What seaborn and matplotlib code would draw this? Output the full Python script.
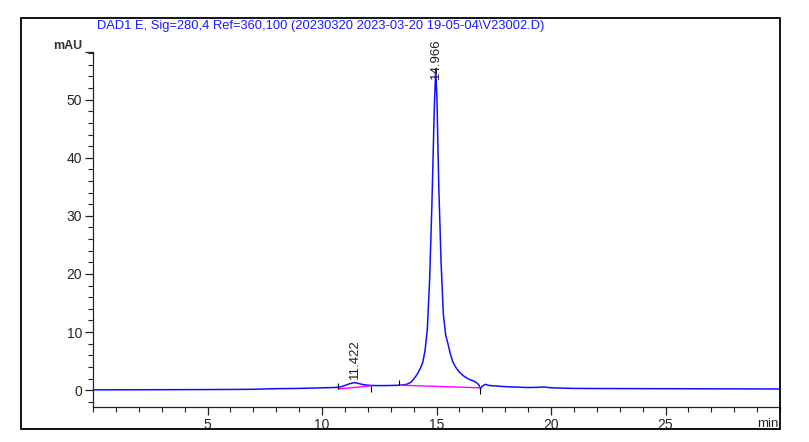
import matplotlib
matplotlib.use("Agg")
import matplotlib.pyplot as plt
import seaborn as sns
import pandas as pd
from matplotlib.patches import Rectangle
from matplotlib.ticker import MultipleLocator

sns.set_style("white")
plt.rcParams['font.family'] = ['Liberation Sans', 'DejaVu Sans']

# Chromatogram signal
time_min = [0.0, 1.0, 2.0, 3.0, 4.0, 5.0, 6.0, 7.0, 7.6, 8.0, 9.0, 10.0, 10.5, 10.8,
            11.0, 11.2, 11.42, 11.6, 11.8, 12.0, 12.2, 12.6, 13.0, 13.4, 13.7, 13.9,
            14.0, 14.1, 14.2, 14.3, 14.4, 14.5, 14.6, 14.7, 14.8, 14.9, 14.966, 15.02,
            15.1, 15.2, 15.3, 15.4, 15.5, 15.6, 15.7, 15.8, 15.9, 16.0, 16.2, 16.4,
            16.6, 16.75, 16.85, 16.92, 17.0, 17.14, 17.3, 17.6, 18.0, 19.0, 19.5,
            19.7, 20.0, 21.0, 22.0, 25.0, 28.0, 30.0]
signal_mau = [0.05, 0.06, 0.07, 0.08, 0.09, 0.1, 0.12, 0.15, 0.22, 0.25, 0.3, 0.4, 0.45, 0.55,
              0.8, 1.1, 1.3, 1.15, 0.95, 0.85, 0.8, 0.78, 0.8, 0.85, 1.0, 1.4,
              1.9, 2.4, 3.0, 3.8, 4.8, 6.8, 10.5, 19.0, 32.0, 48.0, 55.3, 50.0,
              35.0, 22.0, 13.0, 9.5, 8.0, 6.3, 5.0, 4.2, 3.6, 3.1, 2.4, 1.9,
              1.6, 1.3, 0.9, 0.25, 0.7, 1.0, 0.8, 0.72, 0.6, 0.45, 0.5,
              0.55, 0.4, 0.3, 0.28, 0.25, 0.22, 0.2]

# Integration baselines (magenta)
base1_t = [10.7, 12.15]
base1_v = [0.2, 0.74]
base2_t = [13.38, 16.92]
base2_v = [0.86, 0.4]

# Integration event marks
mark_t = [10.7, 12.15, 13.38, 16.92]
mark_lo = [0.2, -0.4, 0.86, -0.6]
mark_hi = [1.2, 0.74, 1.7, 0.4]

# Peak labels
peak_rt = [11.422, 14.966]
peak_lbl_y = [2.0, 53.6]
peak_lbl = ["11.422", "14.966"]

title = "DAD1 E, Sig=280,4 Ref=360,100 (20230320 2023-03-20 19-05-04\\V23002.D)"
x_major = [5, 10, 15, 20, 25]
y_major = [0, 10, 20, 30, 40, 50]

df = pd.DataFrame({"t": time_min, "v": signal_mau})

W, H = 809, 442
fig = plt.figure(figsize=(W / 100, H / 100), dpi=100)
ax = fig.add_axes([93 / W, 1 - 407 / H, (780 - 93) / W, (407 - 52) / H])

sns.lineplot(data=df, x="t", y="v", ax=ax, color="#1010ff", lw=1.1, estimator=None, sort=False)
sns.lineplot(x=base1_t, y=base1_v, ax=ax, color="#ff00ff", lw=1.0, estimator=None)
sns.lineplot(x=base2_t, y=base2_v, ax=ax, color="#ff00ff", lw=1.0, estimator=None)
ax.vlines(mark_t, mark_lo, mark_hi, color="black", lw=0.8)

for t, y, s in zip(peak_rt, peak_lbl_y, peak_lbl):
    ax.text(t, y, s, rotation=90, ha="center", va="bottom", fontsize=9.5,
            color="#202020", clip_on=False)

ax.set_xlim(0, 30)
ax.set_ylim(-2.9, 58.2)
ax.set_xlabel("")
ax.set_ylabel("")
ax.xaxis.set_major_locator(plt.FixedLocator(x_major))
ax.xaxis.set_minor_locator(MultipleLocator(1))
ax.set_yticks(y_major + [58.2])
ax.set_yticklabels([str(v) for v in y_major] + ["mAU"])
ax.yaxis.set_minor_locator(MultipleLocator(2))
ax.tick_params(axis="both", which="major", direction="out", length=6, width=0.9,
               color="#222222", labelsize=10, pad=2, bottom=True, left=True)
ax.tick_params(axis="both", which="minor", direction="out", length=3.5, width=0.8,
               color="#222222", bottom=True, left=True)
lab = ax.get_yticklabels()[-1]
lab.set_fontsize(9)
lab.set_fontweight("bold")
lab.set_color("#333333")
lab.set_verticalalignment("bottom")

for side in ["top", "right"]:
    ax.spines[side].set_visible(False)
for side in ["left", "bottom"]:
    ax.spines[side].set_color("#222222")
    ax.spines[side].set_linewidth(0.9)

ax.annotate("min", xy=(29.45, -2.9), xycoords="data", xytext=(0, -8),
            textcoords="offset points", ha="center", va="top", fontsize=9.5,
            color="#222222", annotation_clip=False)

fig.text(321 / W, 1 - 26 / H, title, ha="center", va="center", fontsize=9.3, color="#1a1aff")

fig.patches.append(Rectangle((21 / W, 1 - 429 / H), (780 - 21) / W, (429 - 18) / H,
                             transform=fig.transFigure, fill=False, edgecolor="black", lw=1.3))

fig.savefig("out.png", dpi=100)
